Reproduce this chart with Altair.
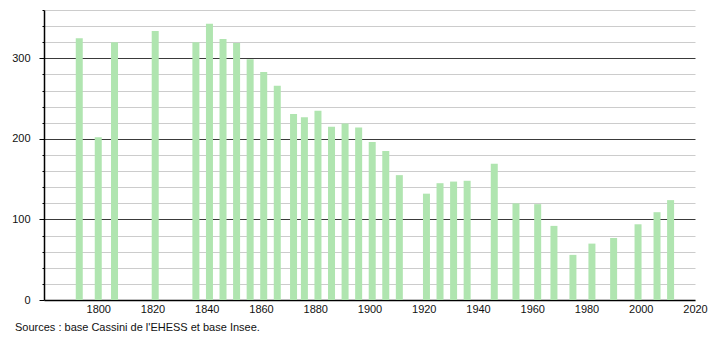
import altair as alt
import pandas as pd

years = [1793, 1800, 1806, 1821, 1836, 1841, 1846, 1851, 1856, 1861, 1866,
         1872, 1876, 1881, 1886, 1891, 1896, 1901, 1906, 1911, 1921, 1926,
         1931, 1936, 1946, 1954, 1962, 1968, 1975, 1982, 1990, 1999, 2006, 2011]
population = [325, 202, 320, 334, 320, 343, 324, 319, 299, 283, 266,
              231, 227, 235, 215, 219, 214, 196, 185, 155, 132, 145,
              147, 148, 169, 120, 119, 92, 56, 70, 77, 94, 109, 124]
x_ticks = list(range(1800, 2021, 20))
y_ticks = list(range(0, 361, 20))
source_text = "Sources : base Cassini de l'EHESS et base Insee."

df = pd.DataFrame({"year": years, "pop": population})
font = "Liberation Sans"

bars = alt.Chart(df).mark_bar(size=7, color="#b0e5b0").encode(
    x=alt.X("year:Q", scale=alt.Scale(domain=[1780, 2020], nice=False, zero=False, padding=0),
            axis=alt.Axis(values=x_ticks, title=None, grid=False, ticks=False,
                          domainColor="#000", domainWidth=1.5, labelColor="#111",
                          labelFont=font, labelFontSize=11, labelPadding=3,
                          labelFlush=False, format="d")),
    y=alt.Y("pop:Q", scale=alt.Scale(domain=[0, 360], nice=False),
            axis=alt.Axis(values=y_ticks, title=None,
                          gridColor={"condition": {"test": "datum.value % 100 === 0 && datum.value > 0",
                                                   "value": "#3a3a3a"},
                                     "value": "#cccccc"},
                          gridWidth=1,
                          labelExpr="datum.value % 100 === 0 ? datum.label : ''",
                          tickColor="#000",
                          tickSize={"condition": {"test": "datum.value % 100 === 0", "value": 5},
                                    "value": 2},
                          domainColor="#000", domainWidth=1.5,
                          labelColor="#111", labelFont=font, labelFontSize=11,
                          labelPadding=9)),
)

note = alt.Chart(pd.DataFrame({"t": [source_text]})).mark_text(
    align="left", baseline="middle", font=font, fontSize=11, color="#111"
).encode(x=alt.value(-29), y=alt.value(318), text="t:N")

chart = alt.layer(bars, note).properties(
    width=651, height=290,
    autosize=alt.AutoSizeParams(type="none"),
    padding={"left": 44, "top": 10, "right": 15, "bottom": 40},
).configure_view(stroke=None)

chart.save("out.html", embed_options={"renderer": "svg", "actions": False})
